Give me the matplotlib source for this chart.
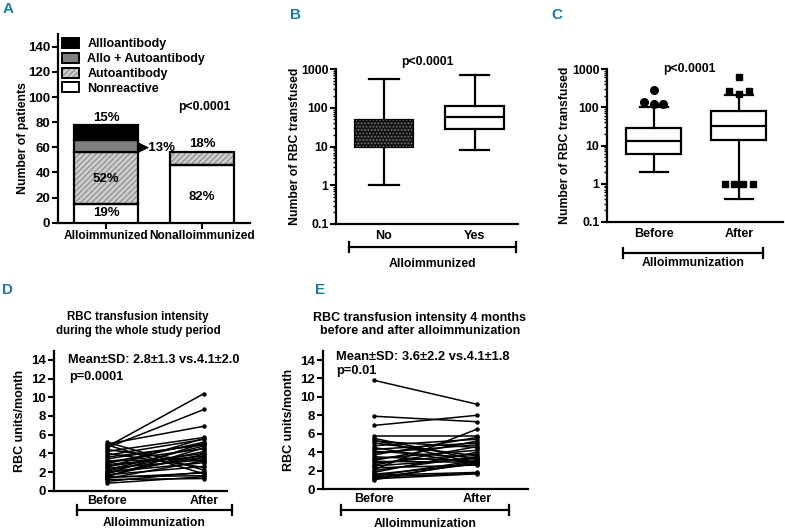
import matplotlib.pyplot as plt
import matplotlib.patches as mpatches
import numpy as np

plt.rcParams['font.family'] = ['Liberation Sans', 'DejaVu Sans']
plt.rcParams['font.weight'] = 'bold'
plt.rcParams['axes.labelweight'] = 'bold'
plt.rcParams['font.size'] = 8.8
plt.rcParams['hatch.linewidth'] = 0.8

# ---- data ----
# panel A: stacked counts and printed percentages
groups_a = ['Alloimmunized', 'Nonalloimmunized']
nonreactive = [15, 46]
autoantibody = [41, 10]
allo_auto = [10, 0]
alloantibody = [12, 0]
pct_nonreactive = ['19%', '82%']
pct_autoantibody = ['52%', '18%']
pct_allo_auto = ['13%', '']
pct_alloantibody = ['15%', '']

# panel B: box stats (whisker low, q1, median, q3, whisker high)
groups_b = ['No', 'Yes']
b_low = [1, 8]
b_q1 = [10, 29]
b_med = [22, 57]
b_q3 = [47, 110]
b_high = [550, 700]

# panel C
groups_c = ['Before', 'After']
c_low = [2, 0.4]
c_q1 = [6, 14]
c_med = [13, 33]
c_q3 = [28, 80]
c_high = [100, 210]
before_out_top = [280]
before_out_hi = [135, 120, 125]
after_out_top = [620]
after_out_hi = [260, 220, 260]
after_out_lo = [1, 1, 1, 1]

# panel D: transfusion intensity, whole study period
d_before = [5.2, 5.0, 4.9, 4.7, 4.6, 4.4, 4.2, 4.0, 3.8, 3.6, 3.4, 3.2, 3.1, 2.9, 2.8, 2.6,
            2.5, 2.4, 2.2, 2.1, 2.0, 1.9, 1.8, 1.7, 1.6, 1.5, 1.5, 1.4, 1.3, 1.2, 1.0, 0.8]
d_after = [2.2, 6.9, 1.8, 10.4, 8.7, 3.1, 5.7, 2.5, 5.5, 4.9, 5.0, 3.4, 4.5, 5.2, 3.7, 4.0,
           5.6, 3.3, 4.8, 4.2, 3.0, 3.6, 5.1, 2.6, 3.9, 1.6, 4.6, 1.9, 3.2, 1.3, 2.0, 1.5]

# panel E: 4 months before / after
e_before = [11.8, 7.9, 6.9, 5.7, 5.5, 5.3, 5.2, 5.0, 4.7, 4.5, 4.3, 4.1, 3.9, 3.7, 3.5, 3.3,
            3.1, 3.0, 2.8, 2.6, 2.5, 2.3, 2.1, 2.0, 1.8, 1.6, 1.5, 1.4, 1.3, 1.2, 1.1, 1.0]
e_after = [9.2, 7.3, 8.0, 5.7, 3.2, 2.8, 4.5, 3.6, 5.4, 2.7, 5.0, 3.4, 4.8, 5.6, 3.0, 4.2,
           5.2, 2.9, 3.8, 4.6, 3.3, 2.6, 6.5, 3.5, 4.0, 2.7, 1.8, 3.1, 1.7, 2.8, 1.65, 3.0]

W, H = 785, 530
fig = plt.figure(figsize=(W / 100, H / 100), dpi=100)


def add_ax(left, right, top, bottom):
    return fig.add_axes([left / W, 1 - bottom / H, (right - left) / W, (bottom - top) / H])


def style(ax, ylabsize=9.5):
    for s in ['top', 'right']:
        ax.spines[s].set_visible(False)
    for s in ['left', 'bottom']:
        ax.spines[s].set_linewidth(1.6)
    ax.tick_params(width=1.5, length=4, pad=1.5)
    ax.tick_params(axis='y', labelsize=ylabsize)
    ax.tick_params(axis='x', labelsize=8.6)
    for lab in ax.get_xticklabels() + ax.get_yticklabels():
        lab.set_fontweight('bold')


def bracket(ax, x0, x1, y, label, ly):
    kw = dict(transform=ax.transAxes, clip_on=False, color='black', lw=1.6)
    ax.plot([x0, x1], [y, y], **kw)
    ax.plot([x0, x0], [y - 0.035, y + 0.035], **kw)
    ax.plot([x1, x1], [y - 0.035, y + 0.035], **kw)
    ax.text((x0 + x1) / 2, ly, label, transform=ax.transAxes, ha='center', va='center',
            fontsize=8.8, fontweight='bold')


def panel_label(x, y, s):
    fig.text(x / W, 1 - y / H, s, color='#1f78a8', fontsize=11, fontweight='bold',
             ha='left', va='center')


# ---- A ----
ax = add_ax(58, 250, 34.2, 222.7)
xa = np.arange(len(groups_a))
bw = 0.667
bottom = np.zeros(2)
ax.bar(xa, nonreactive, bw, bottom=bottom, color='white', edgecolor='black', lw=1.6, zorder=3)
bottom += nonreactive
ax.bar(xa, autoantibody, bw, bottom=bottom, color='#cdcdcd', edgecolor='#8a8a8a', hatch='//////',
       lw=0, zorder=2)
ax.bar(xa, autoantibody, bw, bottom=bottom, fill=False, edgecolor='black', lw=1.6, zorder=3)
bottom += autoantibody
ax.bar(xa[:1], allo_auto[:1], bw, bottom=bottom[:1], color='#7f7f7f', edgecolor='black', lw=1.6, zorder=3)
bottom += allo_auto
ax.bar(xa[:1], alloantibody[:1], bw, bottom=bottom[:1], color='black', edgecolor='black', lw=1.6, zorder=3)
ax.set_xlim(-0.5, 1.5)
ax.set_ylim(0, 150)
ax.set_yticks(range(0, 141, 20))
ax.set_xticks(xa)
ax.set_xticklabels(groups_a)
ax.set_ylabel('Number of patients')
ax.yaxis.set_label_coords(-0.15, 0.45)
style(ax)
tk = dict(ha='center', va='center', fontsize=9.5)
ax.text(0, 83, pct_alloantibody[0], **tk)
ax.text(0.345, 60, '\u25b6' + pct_allo_auto[0], ha='left', va='center', fontsize=9.5)
ax.text(0, 35, pct_autoantibody[0], **tk)
ax.text(0, 7.5, pct_nonreactive[0], **tk)
ax.text(1, 63, pct_autoantibody[1], **tk)
ax.text(1, 20.5, pct_nonreactive[1], **tk)
ax.text(1.03, 92, 'p<0.0001', ha='center', va='center')
h_allo = mpatches.Patch(facecolor='black', edgecolor='black', lw=1.4)
h_aa = mpatches.Patch(facecolor='#7f7f7f', edgecolor='black', lw=1.4)
h_auto = (mpatches.Patch(facecolor='#cdcdcd', edgecolor='#8a8a8a', hatch='//////', lw=0),
          mpatches.Patch(fill=False, edgecolor='black', lw=1.4))
h_non = mpatches.Patch(facecolor='white', edgecolor='black', lw=1.4)
ax.legend([h_allo, h_aa, h_auto, h_non],
          ['Allloantibody', 'Allo + Autoantibody', 'Autoantibody', 'Nonreactive'],
          loc='upper left', bbox_to_anchor=(0.02, 0.98), frameon=False, fontsize=9,
          labelspacing=0.2, handlelength=1.4, handleheight=0.85, handletextpad=0.65,
          borderpad=0, borderaxespad=0)


def box_stats(low, q1, med, q3, high, labels):
    return [dict(whislo=low[i], q1=q1[i], med=med[i], q3=q3[i], whishi=high[i],
                 fliers=[], label=labels[i]) for i in range(len(labels))]


def draw_box(ax, stats):
    ax.bxp(stats, positions=np.arange(len(stats)), widths=0.65, capwidths=0.33,
           patch_artist=True, showfliers=False,
           boxprops=dict(facecolor='white', edgecolor='black', lw=1.6),
           medianprops=dict(color='black', lw=1.6),
           whiskerprops=dict(color='black', lw=1.6),
           capprops=dict(color='black', lw=1.6))
    ax.set_yscale('log')
    ax.set_ylim(0.1, 1000)
    ax.set_yticks([0.1, 1, 10, 100, 1000])
    ax.set_yticklabels(['0.1', '1', '10', '100', '1000'])
    style(ax, ylabsize=8.8)
    ax.tick_params(axis='y', which='minor', length=2, width=1)
    ax.tick_params(axis='x', length=0, pad=4, labelsize=9)


# ---- B ----
ax = add_ax(336, 518, 69, 224)
draw_box(ax, box_stats(b_low, b_q1, b_med, b_q3, b_high, groups_b))
ax.patches[0].set_facecolor('#151515')
ax.add_patch(mpatches.Rectangle((-0.325, b_q1[0]), 0.65, b_q3[0] - b_q1[0], facecolor='none',
                                edgecolor='#777777', hatch='.....', lw=0, zorder=3))
ax.set_xlim(-0.53, 1.48)
ax.set_ylabel('Number of RBC transfused')
ax.yaxis.set_label_coords(-0.19, 0.5)
ax.text(0.5, 1.045, 'p<0.0001', transform=ax.transAxes, ha='center', va='center')
bracket(ax, 0.071, 0.989, -0.148, 'Alloimmunized', -0.26)

# ---- C ----
ax = add_ax(607, 783, 69, 222)
draw_box(ax, box_stats(c_low, c_q1, c_med, c_q3, c_high, groups_c))
ax.set_xlim(-0.55, 1.52)
for vals, x0, w, m in [(before_out_top, 0, 0, 'o'), (before_out_hi, 0, 0.11, 'o'),
                        (after_out_top, 1, 0, 's'), (after_out_hi, 1, 0.115, 's'),
                        (after_out_lo, 1, 0.165, 's')]:
    xs = x0 + np.linspace(-w, w, len(vals))
    ax.plot(xs, vals, m, color='black', ms=5.5 if m == 'o' else 5, clip_on=False, zorder=4)
ax.set_ylabel('Number of RBC transfused')
ax.yaxis.set_label_coords(-0.205, 0.5)
ax.text(0.47, 1.0, 'p<0.0001', transform=ax.transAxes, ha='center', va='center')
bracket(ax, 0.091, 0.886, -0.203, 'Alloimmunization', -0.27)


# ---- D / E ----
def paired(ax, before, after, xlim):
    for b, a in zip(before, after):
        ax.plot([0, 1], [b, a], '-o', color='black', lw=1.1, ms=2.2)
    ax.set_xlim(*xlim)
    ax.set_ylim(0, 15)
    ax.set_yticks(range(0, 15, 2))
    ax.set_xticks([0, 1])
    ax.set_xticklabels(['Before', 'After'])
    ax.set_ylabel('RBC units/month', fontsize=9)
    style(ax)
    ax.tick_params(axis='x', length=0, pad=3, labelsize=9)


ax = add_ax(54, 227, 350.6, 490.7)
paired(ax, d_before, d_after, (-0.546, 1.237))
ax.yaxis.set_label_coords(-0.16, 0.5)
ax.text(0.486, 1.19, 'RBC transfusion intensity\nduring the whole study period', transform=ax.transAxes,
        ha='center', va='center', fontsize=8.3, linespacing=1.15)
ax.text(0.08, 14.0, 'Mean\u00b1SD: 2.8\u00b11.3 vs.4.1\u00b12.0', ha='left', va='center',
        fontsize=9.2, transform=ax.get_yaxis_transform())
ax.text(0.09, 12.2, 'p=0.0001', ha='left', va='center', fontsize=9.2,
        transform=ax.get_yaxis_transform())
bracket(ax, 0.133, 1.029, -0.138, 'Alloimmunization', -0.232)

ax = add_ax(323, 528, 350.8, 489)
paired(ax, e_before, e_after, (-0.495, 1.495))
ax.yaxis.set_label_coords(-0.137, 0.5)
ax.text(0.473, 1.19, 'RBC transfusion intensity 4 months\nbefore and after alloimmunization',
        transform=ax.transAxes, ha='center', va='center', fontsize=9, linespacing=1.15)
ax.text(0.063, 14.3, 'Mean\u00b1SD: 3.6\u00b12.2 vs.4.1\u00b11.8', ha='left', va='center',
        fontsize=9.3, transform=ax.get_yaxis_transform())
ax.text(0.063, 12.8, 'p=0.01', ha='left', va='center', fontsize=9.3,
        transform=ax.get_yaxis_transform())
bracket(ax, 0.088, 0.907, -0.152, 'Alloimmunization', -0.25)

panel_label(3, 9, 'A')
panel_label(290, 15, 'B')
panel_label(551, 15, 'C')
panel_label(2, 290, 'D')
panel_label(315, 290, 'E')

fig.savefig('out.png', dpi=100)
